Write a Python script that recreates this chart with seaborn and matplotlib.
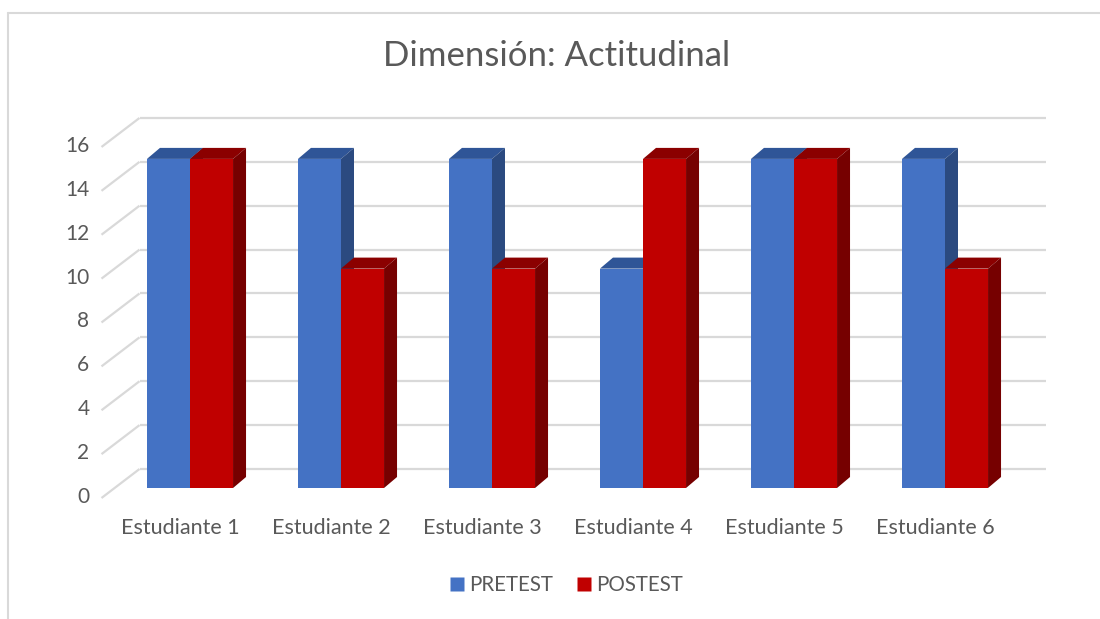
import numpy as np
import pandas as pd
import seaborn as sns
import matplotlib.pyplot as plt
from matplotlib.patches import Polygon
from matplotlib.lines import Line2D

# data
estudiantes = ["Estudiante 1", "Estudiante 2", "Estudiante 3",
               "Estudiante 4", "Estudiante 5", "Estudiante 6"]
pretest = [15, 15, 15, 10, 15, 15]
postest = [15, 10, 10, 15, 15, 10]
series = ["PRETEST", "POSTEST"]
y_ticks = [0, 2, 4, 6, 8, 10, 12, 14, 16]

df = pd.DataFrame({
    "Estudiante": estudiantes * 2,
    "Prueba": [series[0]] * len(estudiantes) + [series[1]] * len(estudiantes),
    "Valor": pretest + postest,
})

front_colors = {"PRETEST": "#4472C4", "POSTEST": "#C00000"}
top_colors = {"PRETEST": "#2F5597", "POSTEST": "#8B0000"}
side_colors = {"PRETEST": "#2B4A80", "POSTEST": "#760000"}
text_color = "#595959"
grid_color = "#D9D9D9"

sns.set_theme(style="white")
plt.rcParams["font.family"] = ["Lato", "DejaVu Sans"]

W, H = 1100, 619
fig = plt.figure(figsize=(W / 100, H / 100), dpi=100)

# pixel layout of the plotting area (bar front plane)
px_left, px_right, px_top, px_bottom = 90, 1060, 110, 500
x0_px, x_unit = 190, 151.0       # category 0 centre, px per category
y0_px, y_unit = 488, 21.94       # value 0, px per unit
ax = fig.add_axes([px_left / W, 1 - px_bottom / H,
                   (px_right - px_left) / W, (px_bottom - px_top) / H])

# depth offsets (data units) relative to bar front plane
dxb, dyb = 25 / x_unit, 19 / y_unit      # back wall
dxf, dyf = -13 / x_unit, -10 / y_unit    # front edge of floor/walls
ddx, ddy = 13 / x_unit, 11 / y_unit      # bar depth

n = len(estudiantes)
for v in y_ticks:
    ax.plot([-0.5 + dxb, n - 0.5 + dxb], [v + dyb, v + dyb],
            color=grid_color, lw=1.6, zorder=1, solid_capstyle="butt")
    ax.plot([-0.5 + dxf, -0.5 + dxb], [v + dyf, v + dyb],
            color=grid_color, lw=1.6, zorder=1, solid_capstyle="butt")
    ax.text(-0.5 + dxf - 0.08, v + dyf + 0.05, str(v), ha="right", va="center",
            fontsize=15, color=text_color)

sns.barplot(data=df, x="Estudiante", y="Valor", hue="Prueba",
            palette=front_colors, width=0.57, ax=ax, legend=False,
            linewidth=0, saturation=1)

# add the 3d top and side faces to each bar
for j, s in enumerate(series):
    cont = ax.containers[j]
    for p in cont.patches:
        x, w, h = p.get_x(), p.get_width(), p.get_height()
        p.set_zorder(3 + 2 * j)
        top = Polygon([(x, h), (x + w, h), (x + w + ddx, h + ddy), (x + ddx, h + ddy)],
                      closed=True, facecolor=top_colors[s], edgecolor="none",
                      zorder=3.5 + 2 * j)
        side = Polygon([(x + w, 0), (x + w, h), (x + w + ddx, h + ddy), (x + w + ddx, ddy)],
                       closed=True, facecolor=side_colors[s], edgecolor="none",
                       zorder=3.5 + 2 * j)
        ax.add_patch(top)
        ax.add_patch(side)

# category labels sit on the front edge of the floor
label_y = (y0_px - 528) / y_unit
for i, name in enumerate(estudiantes):
    ax.text(i - 10 / x_unit, label_y, name, ha="center", va="center",
            fontsize=15.5, color=text_color)

ax.set_xlabel("")
ax.set_ylabel("")
ax.set_yticks([])
ax.set_xticks([])
sns.despine(ax=ax, left=True, bottom=True)
ax.set_xlim((px_left - x0_px) / x_unit, (px_right - x0_px) / x_unit)
ax.set_ylim((y0_px - px_bottom) / y_unit, (y0_px - px_top) / y_unit)

fig.text(557 / W, 1 - 56 / H, "Dimensión: Actitudinal", ha="center", va="center",
         fontsize=25, color=text_color)

handles = [Line2D([], [], marker="s", ls="none", markersize=10,
                  markerfacecolor=front_colors[s], markeredgecolor="none") for s in series]
fig.legend(handles, series, loc="center", bbox_to_anchor=(565 / W, 1 - 585 / H),
           ncol=2, frameon=False, fontsize=14.8, labelcolor=text_color,
           handletextpad=0.1, columnspacing=1.0, handlelength=1.0)

# chart border (top and left as in the reference)
fig.add_artist(Line2D([7.5 / W, 1], [1 - 12.5 / H, 1 - 12.5 / H], color=grid_color, lw=1.5))
fig.add_artist(Line2D([7.5 / W, 7.5 / W], [0, 1 - 12.5 / H], color=grid_color, lw=1.5))

fig.savefig("out.png", dpi=100, facecolor="white")
